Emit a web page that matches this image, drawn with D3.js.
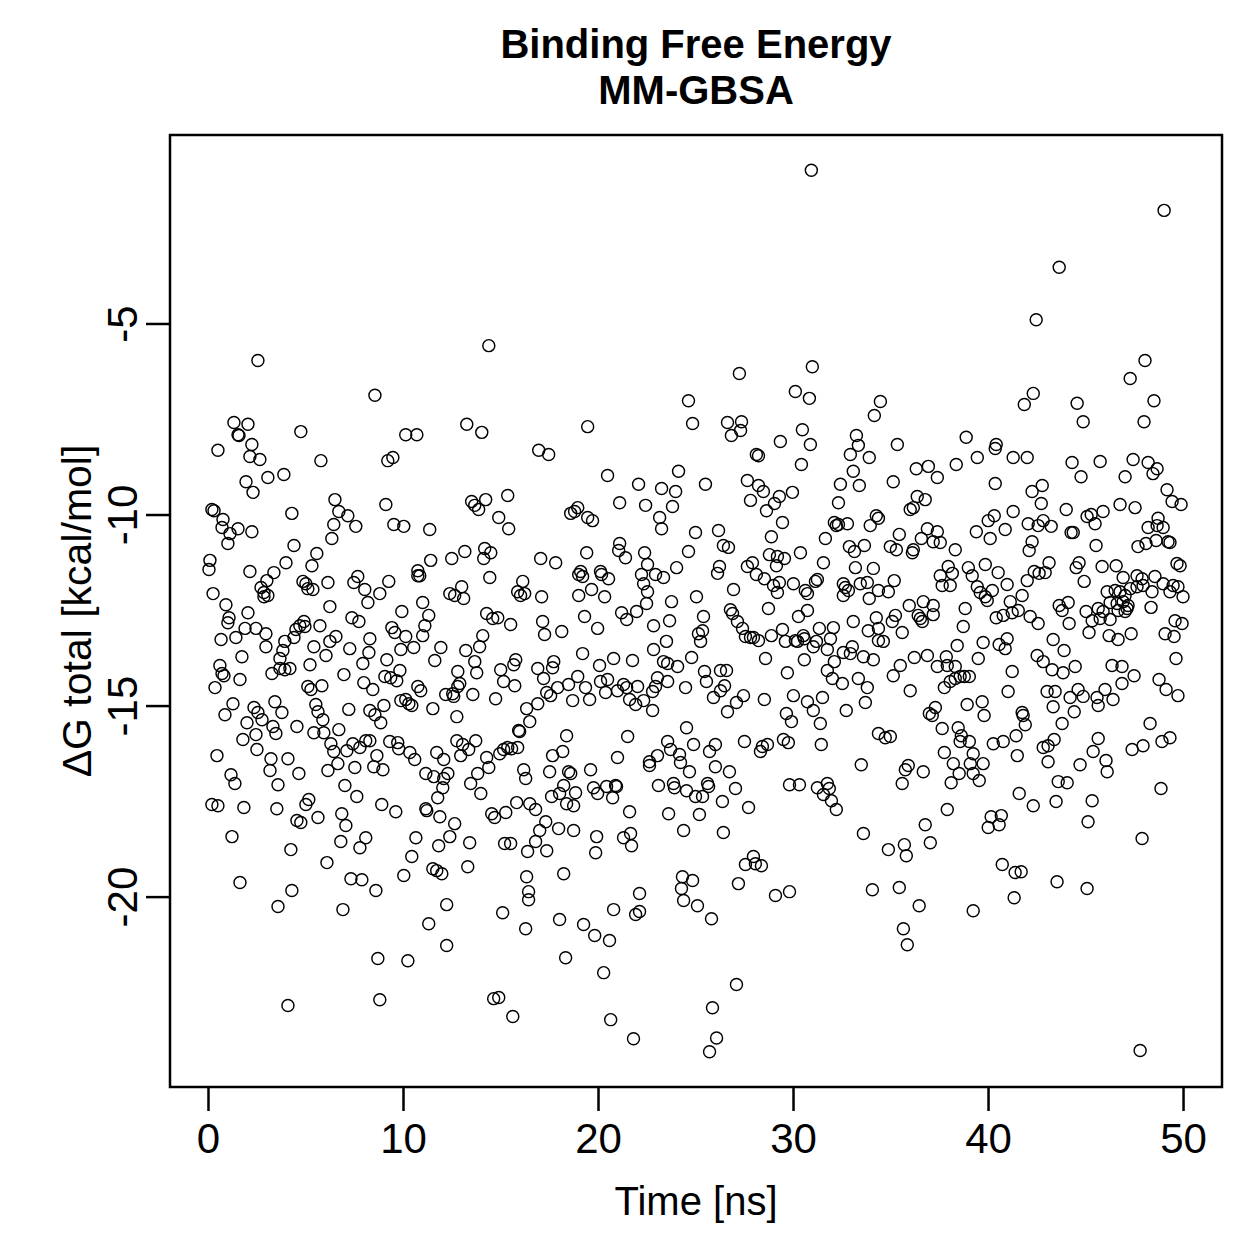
<!DOCTYPE html>
<html>
<head>
<meta charset="utf-8">
<script src="https://cdn.jsdelivr.net/npm/d3@7"></script>
<style>
  body { margin: 0; background: #fff; }
  text { font-family: "Liberation Sans", Arial, Helvetica, sans-serif; fill: #000; }
</style>
</head>
<body>
<script>
const titleLines = ['Binding Free Energy', 'MM-GBSA']
const xLabel = 'Time [ns]'
const yLabel = 'ΔG total [kcal/mol]'
const xTicks = [0, 10, 20, 30, 40, 50]
const yTicks = [-5, -10, -15, -20]

// [time (ns), dG total (kcal/mol)]
const snapshots = [
  [2.56,-5.97],[14.40,-5.58],[8.56,-6.88],[1.33,-7.59],[2.05,-7.64],[1.54,-7.91],[1.59,-7.93],[2.25,-8.17],[4.76,-7.83],[10.14,-7.91],
  [10.71,-7.91],[13.27,-7.64],[14.04,-7.85],
  [30.94,-0.99],[30.99,-6.13],[27.25,-6.31],[24.64,-7.02],[24.85,-7.62],[26.64,-7.59],[27.36,-7.57],[26.84,-7.93],[27.31,-7.80],[30.12,-6.78],
  [30.84,-6.96],[30.48,-7.78],[30.89,-8.17],[29.35,-8.09],[19.47,-7.70],[33.25,-7.93],[33.35,-8.19],[34.48,-7.04],[34.17,-7.41],
  [49.03,-2.04],[43.65,-3.53],[42.47,-4.90],[48.05,-5.97],[47.29,-6.44],[48.51,-7.02],[48.00,-7.57],[42.32,-6.83],[41.86,-7.12],[44.57,-7.09],
  [44.88,-7.57],[35.35,-8.17],[38.88,-7.98],[40.42,-8.17],
  [0.51,-8.32],[2.15,-8.48],[2.66,-8.56],[5.79,-8.59],[9.22,-8.59],[9.48,-8.51],[1.95,-9.14],[2.31,-9.42],[3.07,-9.03],[3.89,-8.95],
  [6.51,-9.61],[6.71,-9.92],[7.17,-10.03],[7.58,-10.31],[6.45,-10.26],[6.35,-10.63],[9.12,-9.74],[9.53,-10.26],[10.04,-10.31],[11.37,-10.39],
  [13.52,-9.66],[13.68,-9.76],[13.88,-9.87],[14.24,-9.61],[15.37,-9.50],[14.91,-10.08],[15.42,-10.37],[0.20,-9.87],[0.31,-9.90],[0.77,-10.13],
  [0.72,-10.34],[1.13,-10.50],[1.54,-10.37],[1.02,-10.76],[2.25,-10.45],[4.30,-9.97],[4.41,-10.81],[5.58,-11.02],[5.33,-11.34],[4.00,-11.26],
  [3.38,-11.52],[3.02,-11.73],[2.72,-11.91],[2.87,-12.04],[3.07,-12.12],[2.87,-12.15],[2.15,-11.49],[0.10,-11.20],[0.05,-11.44],[0.26,-12.07],
  [0.92,-12.36],[1.08,-12.70],[1.02,-12.83],[2.05,-12.57],[1.90,-12.98],[2.46,-12.98],[2.97,-13.12],[1.43,-13.22],[0.67,-13.27],[2.97,-13.46],
  [1.74,-13.72],[0.61,-13.95],[0.72,-14.16],[0.82,-14.22],[1.64,-14.32],[0.36,-14.53],[1.28,-14.95],[0.87,-15.24],[2.36,-15.05],[2.56,-15.18],
  [2.77,-15.37],[2.00,-15.45],[2.46,-15.76],[1.79,-15.89],[2.51,-16.15],[3.43,-14.90],[3.79,-15.18],[3.33,-15.55],[3.48,-15.73],[4.56,-15.55],
  [3.23,-16.39],[4.10,-16.39],[3.18,-16.70],[1.18,-16.81],[0.46,-16.31],[4.66,-16.78],[4.87,-11.75],[5.02,-11.81],[5.12,-11.94],[5.38,-11.96],
  [6.15,-11.78],[6.25,-12.41],[7.48,-11.78],[7.68,-11.62],[8.04,-11.96],[8.20,-12.30],[8.81,-12.07],[9.27,-11.75],[3.94,-13.32],[3.84,-13.56],
  [3.69,-13.77],[3.69,-14.03],[3.94,-14.06],[4.20,-14.03],[4.41,-13.22],[4.51,-13.01],[4.71,-12.91],[4.92,-12.80],[4.97,-12.93],[5.74,-12.91],
  [5.43,-13.46],[6.05,-13.69],[5.23,-13.93],[3.28,-14.16],[6.25,-13.32],[6.56,-13.19],[7.27,-13.51],[7.38,-12.70],[7.74,-12.80],[8.30,-13.25],
  [8.25,-13.61],[7.94,-13.90],[6.97,-14.19],[9.17,-13.80],[9.07,-14.24],[9.37,-14.27],[9.68,-14.35],[9.84,-14.08],[7.99,-14.40],[8.45,-14.58],
  [5.12,-14.50],[5.28,-14.58],[5.84,-14.48],[5.53,-14.97],[5.64,-15.16],[5.89,-15.37],[5.43,-15.71],[5.94,-15.71],[6.71,-15.63],[7.22,-15.10],
  [8.30,-15.13],[8.56,-15.24],[8.86,-15.45],[9.02,-15.00],[6.30,-16.00],[6.45,-16.20],[6.66,-16.52],[6.15,-16.70],[7.12,-16.18],[7.43,-16.00],
  [7.79,-16.10],[8.09,-15.92],[8.30,-15.92],[7.53,-16.62],[8.66,-16.31],[8.50,-16.60],[8.97,-16.68],[9.32,-15.94],[9.73,-15.97],[9.78,-16.13],
  [10.35,-16.23],[10.60,-16.41],[9.43,-12.96],[9.58,-13.09],[10.14,-13.19],[9.89,-13.53],[9.94,-12.54],[10.55,-13.48],[11.01,-12.30],[11.32,-12.64],
  [11.12,-12.91],[11.01,-13.17],[11.94,-13.48],[11.63,-13.82],[10.76,-11.47],[10.76,-11.60],[10.86,-11.60],[11.42,-11.20],[12.50,-11.15],[13.17,-10.97],
  [14.19,-10.89],[14.14,-11.15],[14.50,-11.00],[14.45,-11.65],[12.40,-12.07],[12.65,-12.12],[13.01,-11.89],[13.11,-12.20],[14.29,-12.59],[14.60,-12.72],
  [14.86,-12.70],[15.52,-12.88],[14.09,-13.17],[13.93,-13.46],[13.22,-13.56],[13.68,-13.85],[13.78,-14.14],[12.81,-14.11],[12.91,-14.42],[12.81,-14.50],
  [12.55,-14.69],[12.60,-14.76],[12.19,-14.71],[13.58,-14.71],[14.75,-14.82],[15.01,-14.06],[15.16,-14.37],[15.73,-14.48],[15.68,-13.93],[15.78,-13.80],
  [9.89,-14.87],[10.14,-14.84],[10.30,-14.95],[10.45,-15.00],[10.76,-14.50],[10.91,-14.61],[11.53,-15.08],[12.76,-15.29],[12.76,-15.92],[13.06,-16.02],
  [13.37,-16.15],[13.73,-15.92],[11.73,-16.23],[12.09,-16.41],[12.96,-16.31],[14.29,-16.36],[14.40,-16.62],[14.96,-16.26],[15.16,-16.15],[15.37,-16.10],
  [15.57,-16.13],[15.88,-16.10],[15.93,-15.65],[15.98,-15.68],[16.34,-15.08],[16.14,-11.75],[15.88,-12.02],[16.03,-12.12],[16.24,-12.07],[16.19,-16.68],
  [11.17,-16.78],[11.58,-16.86],[12.30,-16.78],[13.83,-16.78],
  [1.38,-17.04],[3.59,-17.07],[7.02,-17.09],[7.63,-17.38],[12.09,-16.91],[12.04,-17.15],[11.78,-17.41],[13.47,-17.04],[13.99,-17.30],[16.29,-16.91],
  [0.20,-17.59],[0.51,-17.62],[1.84,-17.67],[3.53,-17.70],[4.56,-18.01],[4.76,-18.06],[5.02,-17.59],[5.17,-17.46],[5.64,-17.93],[6.86,-17.83],
  [7.07,-18.14],[8.91,-17.59],[9.63,-17.78],[1.23,-18.43],[4.25,-18.77],[6.81,-18.56],[8.09,-18.46],[7.79,-18.72],[6.10,-19.11],[7.33,-19.53],
  [7.89,-19.56],[8.61,-19.84],[10.04,-19.45],[10.45,-18.95],[10.66,-18.46],[11.17,-17.70],[11.22,-17.75],[11.89,-17.91],[12.65,-18.09],[11.83,-18.67],
  [12.40,-18.43],[13.42,-18.59],[13.32,-19.22],[11.53,-19.27],[11.73,-19.32],[11.99,-19.40],[14.55,-17.83],[14.70,-17.93],[15.27,-17.80],[15.83,-17.54],
  [16.50,-17.57],[15.21,-18.61],[15.52,-18.61],[16.39,-18.82],[16.34,-19.48],[16.44,-19.87],[16.44,-20.08],[16.29,-20.84],[1.64,-19.63],[4.30,-19.84],
  [3.59,-20.26],[6.92,-20.34],[12.24,-20.21],[11.32,-20.71],[12.24,-21.28],[15.11,-20.42],[8.71,-21.62],[10.25,-21.68],[8.81,-22.70],[4.10,-22.85],
  [14.65,-22.67],[14.91,-22.64],[15.63,-23.14],
  [18.24,-17.09],[18.03,-17.30],[17.62,-17.38],[18.39,-17.57],[18.75,-17.62],[18.85,-17.28],[19.77,-17.15],[19.98,-17.30],[20.44,-17.12],[20.90,-17.09],
  [20.95,-17.12],[20.75,-17.41],[23.10,-17.09],[23.87,-17.04],[23.92,-17.15],[24.54,-17.23],[25.00,-17.38],[25.36,-17.38],[25.62,-17.04],[25.67,-17.12],
  [26.38,-17.51],[27.05,-17.17],[27.72,-17.67],[25.20,-17.85],[23.62,-17.83],[21.62,-17.78],[24.39,-18.27],[26.43,-18.32],[16.80,-17.72],[17.32,-18.04],
  [17.01,-18.27],[17.98,-18.22],[18.75,-18.27],[16.80,-18.56],[17.37,-18.80],[19.93,-18.43],[19.88,-18.85],[21.31,-18.46],[21.67,-18.35],[21.72,-18.67],
  [18.24,-19.40],[18.03,-20.60],[19.26,-20.73],[19.83,-21.02],[20.59,-21.15],[20.80,-20.34],[21.93,-20.47],[22.13,-20.39],[22.13,-19.92],[18.34,-21.60],
  [20.29,-21.99],[20.65,-23.22],[21.82,-23.72],[24.33,-19.48],[24.85,-19.58],[24.28,-19.79],[24.39,-20.10],[25.10,-20.24],[25.82,-20.58],[27.20,-19.66],
  [27.56,-19.16],[27.97,-18.95],[28.07,-19.14],[28.38,-19.19],[29.10,-19.97],[29.82,-19.87],[34.07,-19.82],[33.61,-18.35],[29.82,-17.07],[30.33,-17.07],
  [31.25,-17.15],[31.76,-17.04],[31.86,-17.17],[31.56,-17.33],[31.97,-17.49],[32.22,-17.72],[27.10,-22.30],[25.87,-22.91],[26.08,-23.70],[25.72,-24.06],
  [16.96,-8.32],[17.47,-8.43],[20.49,-8.98],[22.08,-9.21],[24.13,-8.87],[25.51,-9.21],[23.26,-9.32],[23.98,-9.40],[21.11,-9.69],[22.44,-9.76],
  [23.82,-9.79],[23.16,-10.08],[23.26,-10.37],[25.00,-10.47],[26.18,-10.42],[18.96,-9.82],[18.80,-9.92],[18.60,-9.97],[19.47,-10.08],[19.72,-10.16],
  [21.11,-10.76],[21.06,-10.94],[21.41,-11.13],[19.42,-11.00],[17.06,-11.15],[17.83,-11.26],[22.39,-11.00],[22.54,-11.31],[22.23,-11.57],[22.34,-11.81],
  [22.54,-12.02],[22.95,-11.57],[23.36,-11.65],[24.03,-11.39],[24.64,-10.97],[26.43,-10.81],[26.69,-10.86],[26.23,-11.36],[26.13,-11.54],[26.95,-11.96],
  [19.11,-11.49],[19.21,-11.62],[19.01,-11.57],[20.13,-11.49],[20.18,-11.57],[20.54,-11.68],[19.67,-11.96],[19.01,-12.12],[20.34,-12.15],[17.11,-12.15],
  [25.05,-12.15],[23.77,-12.28],[22.49,-12.33],[21.98,-12.54],[21.21,-12.57],[21.47,-12.75],[19.31,-12.67],[19.98,-12.98],[17.16,-12.80],[17.26,-13.14],
  [18.14,-13.06],[22.85,-12.91],[23.67,-12.78],[25.41,-12.67],[25.36,-13.04],[25.15,-13.12],[25.26,-13.32],[23.51,-13.32],[22.85,-13.53],[19.21,-13.64],
  [24.80,-13.74],[23.36,-13.85],[23.57,-13.90],[24.08,-13.98],[21.77,-13.82],[20.80,-13.77],[20.08,-13.95],[17.73,-13.85],[17.67,-14.01],[16.91,-14.03],
  [17.21,-14.29],[18.96,-14.24],[18.49,-14.45],[17.93,-14.53],[17.57,-14.74],[17.37,-14.66],[19.36,-14.53],[18.70,-14.87],[19.57,-14.84],[20.13,-14.37],
  [20.49,-14.32],[20.39,-14.66],[21.00,-14.61],[21.31,-14.45],[21.47,-14.53],[21.62,-14.84],[21.93,-14.97],[22.03,-14.50],[22.34,-14.87],[22.80,-14.63],
  [22.80,-15.13],[22.95,-14.50],[23.05,-14.27],[23.57,-14.37],[24.49,-14.53],[16.91,-14.95],[16.50,-15.42],[18.39,-15.79],[18.19,-16.20],[17.67,-16.31],
  [17.52,-16.73],[18.49,-16.73],[18.60,-16.78],[19.62,-16.68],[21.00,-16.36],[21.52,-15.81],[22.64,-16.47],[22.64,-16.57],[23.05,-16.31],[23.57,-15.94],
  [23.72,-16.15],[24.18,-16.28],[24.23,-16.49],[24.69,-16.73],[24.54,-15.58],[24.90,-16.02],[25.72,-16.20],[26.02,-16.02],[26.02,-16.60],[26.74,-16.73],
  [27.66,-9.11],[28.23,-9.24],[28.48,-9.40],[27.82,-9.63],[28.64,-9.90],[29.05,-9.71],[29.30,-9.53],[29.97,-9.42],[30.43,-8.69],[28.12,-8.43],
  [28.23,-8.46],[28.89,-10.58],[29.46,-10.21],[30.38,-11.00],[28.79,-11.05],[29.20,-11.10],[29.56,-11.15],[27.66,-11.36],[27.92,-11.26],[29.15,-11.34],
  [28.12,-11.57],[28.53,-11.68],[29.00,-11.86],[29.30,-11.78],[29.20,-12.04],[30.02,-11.81],[30.63,-11.99],[30.74,-12.07],[31.15,-11.75],[31.25,-11.70],
  [31.56,-11.26],[28.74,-12.46],[30.28,-12.67],[30.74,-12.51],[26.79,-12.49],[26.90,-12.59],[27.15,-12.80],[27.41,-12.98],[27.56,-13.19],[27.82,-13.22],
  [27.97,-13.22],[28.23,-13.30],[28.89,-13.17],[29.46,-13.01],[29.61,-13.32],[30.12,-13.30],[30.23,-13.32],[30.53,-13.17],[30.58,-13.25],[31.04,-13.46],
  [31.20,-13.32],[31.35,-12.98],[32.07,-12.96],[31.92,-13.25],[31.76,-13.53],[28.59,-13.77],[30.58,-13.80],[29.71,-14.14],[31.76,-14.08],[32.12,-13.85],
  [32.02,-14.29],[32.53,-14.42],[30.02,-14.74],[30.74,-14.90],[31.04,-15.13],[31.51,-14.79],[28.53,-14.84],[29.66,-15.21],[29.92,-15.42],[31.40,-15.47],
  [27.46,-14.74],[27.10,-14.92],[26.64,-15.16],[25.92,-14.79],[26.28,-14.61],[26.49,-14.48],[26.28,-14.08],[26.59,-14.08],[25.46,-14.11],[25.56,-14.37],
  [27.51,-15.94],[28.33,-16.20],[28.43,-16.07],[28.69,-16.02],[29.51,-15.89],[29.76,-15.97],[31.45,-16.02],[33.50,-16.55],[32.73,-15.13],[33.35,-14.29],
  [33.81,-14.53],[33.71,-14.92],[34.38,-15.73],[32.12,-10.21],[32.22,-10.29],[32.33,-10.26],[32.79,-10.24],[32.33,-9.69],[32.43,-9.21],[33.40,-9.24],
  [33.09,-8.87],[32.94,-8.43],[33.91,-8.51],[31.66,-10.63],[32.89,-10.84],[33.15,-10.97],[33.66,-10.81],[33.96,-10.29],[34.27,-10.03],[34.38,-10.10],
  [33.20,-11.39],[34.12,-11.41],[32.58,-11.81],[32.68,-11.91],[32.84,-11.99],[32.58,-12.12],[33.45,-11.81],[33.81,-11.78],[33.91,-12.20],[34.38,-11.99],
  [33.09,-12.80],[33.86,-13.04],[34.27,-12.70],[34.38,-12.98],[34.38,-13.30],[32.58,-13.61],[33.04,-13.46],[32.94,-13.64],[33.61,-13.72],[34.12,-13.80],
  [36.32,-8.80],[36.94,-8.74],[37.40,-9.03],[35.14,-9.14],[38.37,-8.69],[39.45,-8.51],[40.37,-8.27],[41.29,-8.51],[42.01,-8.51],[40.37,-9.19],
  [42.26,-9.40],[42.78,-9.24],[42.73,-9.71],[44.31,-8.64],[44.77,-9.01],[45.75,-8.61],[47.03,-9.01],[47.44,-8.56],[48.21,-8.64],[48.67,-8.80],
  [48.46,-8.93],[49.18,-9.35],[49.44,-9.66],[49.90,-9.74],[47.54,-9.82],[46.77,-9.74],[45.90,-9.92],[45.08,-10.05],[45.29,-10.00],[45.49,-10.24],
  [44.01,-9.87],[44.26,-10.47],[44.37,-10.47],[45.54,-10.81],[48.21,-10.34],[48.72,-10.10],[48.67,-10.29],[48.98,-10.34],[47.69,-10.84],[48.10,-10.76],
  [48.62,-10.68],[49.23,-10.71],[49.33,-10.73],[49.69,-11.28],[49.85,-11.34],[36.37,-9.53],[36.78,-9.61],[36.17,-9.82],[36.01,-9.87],[36.89,-10.37],
  [37.40,-10.45],[36.58,-10.63],[37.19,-10.71],[37.55,-10.73],[35.45,-10.52],[34.99,-10.84],[35.30,-10.92],[36.17,-10.92],[36.12,-11.00],[38.32,-10.92],
  [39.40,-10.45],[40.01,-10.16],[40.32,-10.03],[40.11,-10.63],[40.88,-10.39],[41.29,-9.92],[42.06,-10.24],[42.57,-10.29],[42.83,-10.16],[43.24,-10.31],
  [42.26,-10.71],[42.11,-10.94],[35.19,-11.73],[34.89,-12.02],[34.63,-13.32],[35.09,-12.80],[35.25,-12.64],[35.60,-13.09],[35.96,-12.38],[36.68,-12.28],
  [36.42,-12.64],[36.53,-12.72],[36.63,-12.80],[37.19,-12.38],[37.19,-12.62],[37.55,-11.60],[37.96,-11.36],[38.17,-11.54],[37.65,-11.86],[38.06,-11.86],
  [38.99,-11.39],[39.19,-11.60],[39.86,-11.31],[40.52,-11.52],[39.45,-11.89],[39.60,-12.04],[39.86,-12.15],[39.96,-12.25],[40.22,-11.99],[40.98,-11.83],
  [41.14,-12.28],[41.75,-12.12],[42.01,-11.73],[38.83,-12.46],[40.42,-12.70],[40.78,-12.64],[41.24,-12.57],[41.55,-12.51],[42.16,-12.67],[42.57,-12.85],
  [42.37,-11.49],[42.62,-11.54],[42.93,-11.52],[43.13,-11.26],[44.52,-11.39],[44.67,-11.26],[44.93,-11.75],[45.85,-11.36],[46.57,-11.34],[46.93,-11.65],
  [47.64,-11.60],[47.90,-11.68],[48.56,-11.62],[48.98,-11.81],[49.49,-11.86],[49.74,-11.89],[49.33,-12.02],[50.00,-12.15],[46.11,-12.02],[46.52,-11.99],
  [46.77,-12.02],[47.03,-12.12],[47.29,-11.94],[47.64,-11.89],[47.95,-11.86],[48.41,-12.02],[46.26,-12.30],[46.62,-12.33],[46.93,-12.28],[47.18,-12.38],
  [47.03,-12.54],[47.13,-12.46],[46.67,-12.51],[45.65,-12.46],[45.90,-12.54],[45.75,-12.72],[46.26,-12.75],[45.03,-12.54],[45.34,-12.78],[43.65,-12.38],
  [43.80,-12.51],[44.11,-12.30],[44.16,-12.85],[48.36,-12.43],[49.59,-12.78],[49.95,-12.85],[49.08,-13.12],[49.54,-13.19],[45.18,-13.09],[46.21,-13.17],
  [46.67,-13.27],[47.34,-13.12],[43.34,-13.27],[38.73,-12.93],[38.42,-13.43],[39.75,-13.35],[40.57,-13.40],[40.88,-13.51],[40.98,-13.25],[42.52,-13.69],
  [42.83,-13.85],[43.29,-14.06],[43.85,-14.14],[44.47,-13.98],[43.90,-13.56],[49.64,-13.77],[46.36,-13.95],[46.87,-13.98],[47.49,-14.22],[46.87,-14.42],
  [48.77,-14.32],[49.13,-14.58],[49.74,-14.74],[36.22,-13.74],[36.89,-13.69],[35.50,-13.95],[35.14,-14.22],[37.40,-13.98],[37.86,-13.72],[37.91,-13.95],
  [38.32,-13.98],[38.78,-14.24],[39.04,-14.24],[37.76,-14.53],[38.06,-14.37],[38.32,-14.29],[38.57,-14.24],[39.50,-13.77],[41.24,-14.11],[36.01,-14.61],
  [41.03,-14.63],[43.03,-14.63],[43.44,-14.63],[43.34,-15.03],[44.21,-14.79],[44.62,-14.58],[44.88,-14.76],[44.42,-15.16],[45.59,-14.79],[45.65,-15.00],
  [46.00,-14.58],[46.41,-14.84],[38.93,-14.97],[39.70,-14.90],[39.80,-15.26],[36.99,-15.21],[37.14,-15.26],[37.30,-15.05],[41.75,-15.18],[41.80,-15.26],
  [41.91,-15.50],[37.65,-15.60],[38.47,-15.58],[38.63,-15.79],[38.57,-15.94],[39.04,-15.94],[34.73,-15.84],[34.99,-15.81],[43.80,-15.47],[41.44,-15.79],
  [40.27,-16.00],[40.78,-15.94],[42.83,-16.10],[43.08,-16.05],[43.39,-15.89],[43.08,-16.47],[41.50,-16.31],[37.76,-16.23],[39.24,-16.26],[39.09,-16.52],
  [39.75,-16.52],[38.22,-16.52],[38.52,-16.78],[39.24,-16.78],[35.76,-16.68],[35.91,-16.57],[36.68,-16.73],[45.39,-16.20],[45.65,-15.86],[46.05,-16.44],
  [46.11,-16.73],[44.72,-16.55],[47.39,-16.15],[47.95,-16.05],[48.31,-15.47],[48.92,-15.94],[49.33,-15.84],
  [35.60,-17.04],[38.11,-17.02],[39.55,-16.96],[41.60,-17.30],[42.32,-17.62],[43.49,-17.51],[43.60,-16.99],[44.06,-17.02],[45.34,-17.49],[45.13,-18.04],
  [48.87,-17.17],[47.90,-18.48],[37.91,-17.72],[36.78,-18.12],[37.04,-18.59],[34.89,-18.77],[35.71,-18.64],[35.81,-18.93],[40.16,-17.91],[40.68,-17.88],
  [40.01,-18.19],[40.57,-18.12],[40.73,-19.16],[41.39,-19.37],[41.70,-19.35],[43.54,-19.61],[45.08,-19.79],[35.45,-19.76],[36.47,-20.24],[39.24,-20.37],
  [41.34,-20.03],[35.66,-20.84],[35.86,-21.26],[47.80,-24.03]
]

const width = 1259
const height = 1259
const margin = { top: 135, right: 37, bottom: 172, left: 170 }
const plotW = width - margin.left - margin.right
const plotH = height - margin.top - margin.bottom

// R-style axis range: data range stretched by 4% on each side
function padRange([lo, hi]) {
  const d = (hi - lo) * 0.04
  return [lo - d, hi + d]
}

const x = d3.scaleLinear()
  .domain(padRange(d3.extent(snapshots, d => d[0])))
  .range([margin.left, margin.left + plotW])

const y = d3.scaleLinear()
  .domain(padRange(d3.extent(snapshots, d => d[1])))
  .range([margin.top + plotH, margin.top])

const svg = d3.select('body')
  .append('svg')
  .attr('width', width)
  .attr('height', height)

svg.append('rect')
  .attr('width', width)
  .attr('height', height)
  .attr('fill', '#fff')

// points
svg.append('g')
  .selectAll('circle')
  .data(snapshots)
  .enter()
  .append('circle')
  .attr('cx', d => x(d[0]))
  .attr('cy', d => y(d[1]))
  .attr('r', 6)
  .attr('fill', 'none')
  .attr('stroke', '#000')
  .attr('stroke-width', 1.45)

// axes
const gx = svg.append('g')
  .attr('transform', `translate(0, ${margin.top + plotH})`)
  .call(d3.axisBottom(x).tickValues(xTicks).tickSize(24).tickFormat(d => String(d)))
gx.select('.domain').remove()
gx.selectAll('.tick line').attr('stroke', '#000').attr('stroke-width', 2.5)
gx.selectAll('.tick text')
  .attr('y', 66)
  .attr('dy', null)
  .style('font-size', '42px')

const gy = svg.append('g')
  .attr('transform', `translate(${margin.left}, 0)`)
  .call(d3.axisLeft(y).tickValues(yTicks).tickSize(24).tickFormat(d => String(d)))
gy.select('.domain').remove()
gy.selectAll('.tick line').attr('stroke', '#000').attr('stroke-width', 2.5)
gy.selectAll('.tick text')
  .attr('x', 0)
  .attr('dy', null)
  .attr('text-anchor', 'middle')
  .attr('transform', 'translate(-33, 0) rotate(-90)')
  .style('font-size', '42px')

// frame
svg.append('rect')
  .attr('x', margin.left)
  .attr('y', margin.top)
  .attr('width', plotW)
  .attr('height', plotH)
  .attr('fill', 'none')
  .attr('stroke', '#000')
  .attr('stroke-width', 2.5)

// labels
const cx = margin.left + plotW / 2

svg.append('g').selectAll('text')
  .data(titleLines)
  .enter()
  .append('text')
  .attr('x', cx)
  .attr('y', (d, i) => 58 + i * 46)
  .attr('text-anchor', 'middle')
  .style('font-size', '40px')
  .style('font-weight', 'bold')
  .text(d => d)

svg.append('text')
  .attr('x', cx)
  .attr('y', 1215)
  .attr('text-anchor', 'middle')
  .style('font-size', '40px')
  .text(xLabel)

svg.append('text')
  .attr('transform', `translate(91, ${margin.top + plotH / 2}) rotate(-90)`)
  .attr('text-anchor', 'middle')
  .style('font-size', '41px')
  .text(yLabel)
</script>
</body>
</html>
